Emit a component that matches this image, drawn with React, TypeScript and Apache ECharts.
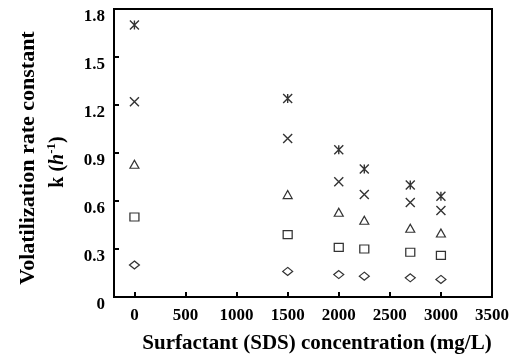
import React, { useEffect, useRef } from "react";
import * as echarts from "echarts";

const xValues = [0, 1500, 2000, 2250, 2700, 3000];
const seriesAsterisk = [1.7, 1.24, 0.92, 0.8, 0.7, 0.63];
const seriesCross = [1.22, 0.99, 0.72, 0.64, 0.59, 0.54];
const seriesTriangle = [0.83, 0.64, 0.53, 0.48, 0.43, 0.4];
const seriesSquare = [0.5, 0.39, 0.31, 0.3, 0.28, 0.26];
const seriesDiamond = [0.2, 0.16, 0.14, 0.13, 0.12, 0.11];
const xTickValues = [0, 500, 1000, 1500, 2000, 2500, 3000, 3500];

const FONT = '"Liberation Serif", "Times New Roman", serif';

const pair = (ys: number[]) => ys.map((y, i) => [xValues[i], y]);

export default function App() {
  const ref = useRef<HTMLDivElement>(null);
  useEffect(() => {
    if (!ref.current) return;
    const chart = echarts.init(ref.current, undefined, { renderer: "svg" });
    const base = {
      type: "scatter",
      itemStyle: { color: "#fff", borderColor: "#000", borderWidth: 1.2 },
    };
    const lineItem = { color: "none", borderColor: "#000", borderWidth: 1.4 };
    chart.setOption({
      animation: false,
      grid: {
        left: 114,
        top: 9,
        right: 16.5,
        bottom: 57,
        show: true,
        borderColor: "#000",
        borderWidth: 2,
        backgroundColor: "transparent",
      },
      xAxis: {
        type: "value",
        min: -200,
        max: 3500,
        axisLine: { show: true, onZero: false, lineStyle: { color: "#000", width: 2 } },
        axisTick: {
          show: true,
          inside: true,
          length: 5,
          customValues: xTickValues,
          lineStyle: { color: "#000", width: 2 },
        },
        axisLabel: {
          customValues: xTickValues,
          formatter: (v: number) => String(v),
          margin: 9,
          color: "#000",
          fontFamily: FONT,
          fontWeight: "bold",
          fontSize: 17,
        },
        splitLine: { show: false },
      },
      yAxis: {
        type: "value",
        min: 0,
        max: 1.8,
        interval: 0.3,
        axisLine: { show: true, onZero: false, lineStyle: { color: "#000", width: 2 } },
        axisTick: {
          show: true,
          inside: true,
          length: 5,
          lineStyle: { color: "#000", width: 2 },
        },
        axisLabel: {
          margin: 9,
          verticalAlign: "top",
          lineHeight: 12,
          color: "#000",
          fontFamily: FONT,
          fontWeight: "bold",
          fontSize: 17,
        },
        splitLine: { show: false },
      },
      graphic: [
        {
          type: "text",
          x: 26,
          y: 158,
          rotation: Math.PI / 2,
          style: {
            text: "Volatilization rate constant",
            fontFamily: FONT,
            fontWeight: "bold",
            fontSize: 22,
            fill: "#000",
            align: "center",
            verticalAlign: "middle",
          },
        },
        {
          type: "text",
          x: 56,
          y: 162,
          rotation: Math.PI / 2,
          style: {
            text: "{n|k (}{i|h}{s|-1}{n|)}",
            align: "center",
            verticalAlign: "middle",
            fill: "#000",
            rich: {
              n: { fontFamily: FONT, fontWeight: "bold", fontSize: 20, lineHeight: 24, fill: "#000" },
              i: { fontFamily: FONT, fontWeight: "bold", fontStyle: "italic", fontSize: 20, lineHeight: 24, fill: "#000" },
              s: { fontFamily: FONT, fontWeight: "bold", fontSize: 13, lineHeight: 24, verticalAlign: "top", fill: "#000" },
            },
          },
        },
        {
          type: "text",
          x: 317,
          y: 342,
          style: {
            text: "Surfactant (SDS) concentration (mg/L)",
            fontFamily: FONT,
            fontWeight: "bold",
            fontSize: 21,
            fill: "#000",
            align: "center",
            verticalAlign: "middle",
          },
        },
      ],
      series: [
        {
          ...base,
          name: "asterisk",
          symbol: "path://M0 0L10 10M10 0L0 10M5 0L5 10",
          symbolSize: 9,
          itemStyle: lineItem,
          data: pair(seriesAsterisk),
        },
        {
          ...base,
          name: "cross",
          symbol: "path://M0 0L10 10M10 0L0 10",
          symbolSize: 9,
          itemStyle: lineItem,
          data: pair(seriesCross),
        },
        {
          ...base,
          name: "triangle",
          symbol: "triangle",
          symbolSize: [9, 8],
          data: pair(seriesTriangle),
        },
        {
          ...base,
          name: "square",
          symbol: "rect",
          symbolSize: [9, 8],
          data: pair(seriesSquare),
        },
        {
          ...base,
          name: "diamond",
          symbol: "diamond",
          symbolSize: [10, 8],
          data: pair(seriesDiamond),
        },
      ],
    });
    return () => chart.dispose();
  }, []);
  return (
    <div
      ref={ref}
      style={{ position: "fixed", left: 0, top: 0, width: 512, height: 354 }}
    />
  );
}
